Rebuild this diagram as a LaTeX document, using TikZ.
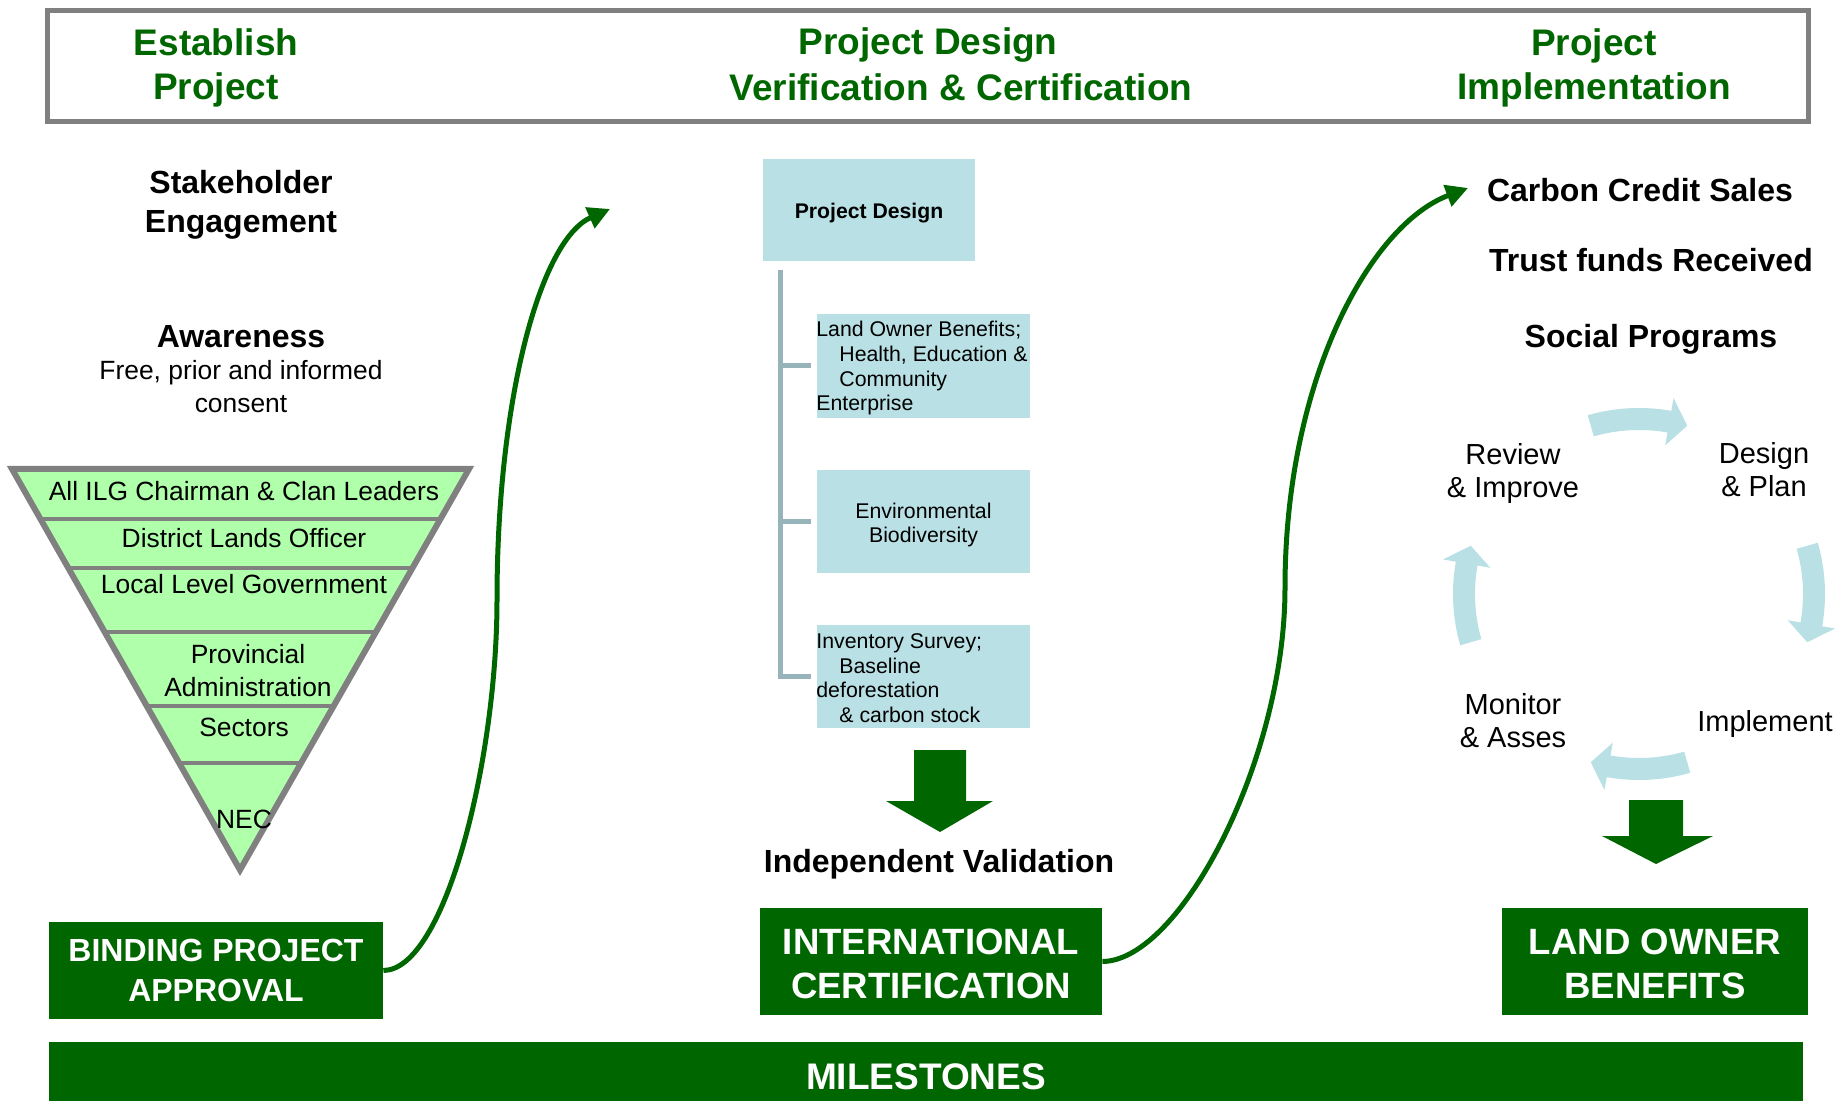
\documentclass[tikz,border=0pt]{standalone}
\usepackage{fontspec}
\setmainfont{Liberation Sans}
\usetikzlibrary{arrows.meta,calc}
\definecolor{dgreen}{RGB}{0,102,0}
\definecolor{lgreen}{RGB}{176,255,170}
\definecolor{lblue}{RGB}{185,224,228}
\definecolor{brkc}{RGB}{150,180,185}
\definecolor{tgray}{RGB}{128,128,128}
\newcommand{\fsz}[2]{\fontsize{#1}{#2}\selectfont}
\begin{document}
\begin{tikzpicture}[x=0.5pt,y=-0.5pt,
  hdr/.style={text=dgreen, font=\fsz{18.5pt}{22pt}\bfseries, align=center, inner sep=0},
  boldtxt/.style={font=\fsz{16pt}{19.4pt}\bfseries, align=center, inner sep=0},
  regtxt/.style={font=\fsz{13.2pt}{16.5pt}, align=center, inner sep=0},
  gbox/.style={fill=dgreen, text=white, align=center, inner sep=0},
  gtxt/.style={text=white, align=center, inner sep=0},
  pbox/.style={fill=lblue, inner sep=0},
  subtxt/.style={font=\fsz{10.65pt}{12.3pt}, align=left, inner sep=0},
  cyc/.style={font=\fsz{14.5pt}{16.5pt}, align=center, inner sep=0},
  curv/.style={draw=dgreen, line width=2.5pt, -{Triangle[length=11pt,width=11pt]}},
  brk/.style={draw=brkc, line width=2.5pt},
]
\useasboundingbox (0,0) rectangle (1838,1101);

% header
\node[draw=tgray, line width=2.5pt, minimum width=880.5pt, minimum height=55.75pt, inner sep=0] (hdrbox) at (927.5,66.25) {};
\node[hdr] (h1) at (216,68) {Establish\\Project};
\node[hdr] (h2a) at (928,45.5) {Project Design};
\node[hdr] (h2b) at (961,87) {Verification \& Certification};
\node[hdr] (h3) at (1594,68) {Project\\Implementation};

% left column
\node[boldtxt] (se) at (241,204.5) {Stakeholder\\Engagement};
\node[boldtxt] (aw) at (241,337) {Awareness};
\node[regtxt] (fp) at (241,387) {Free, prior and informed\\consent};

\coordinate (TL) at (12,469);
\coordinate (TR) at (469,469);
\coordinate (TB) at (240,870);
\fill[lgreen] (TL) -- (TR) -- (TB) -- cycle;
\foreach \f in {0.1247,0.2469,0.4065,0.591,0.733}
  \draw[tgray, line width=2pt] ($(TL)!\f!(TB)$) -- ($(TR)!\f!(TB)$);
\draw[tgray, line width=3pt, line join=miter] (TL) -- (TR) -- (TB) -- cycle;

\node[regtxt] (t1) at (244,491) {All ILG Chairman \& Clan Leaders};
\node[regtxt] (t2) at (244,538) {District Lands Officer};
\node[regtxt] (t3) at (244,584) {Local Level Government};
\node[regtxt] (t4) at (248,670.5) {Provincial\\Administration};
\node[regtxt] (t5) at (244,727) {Sectors};
\node[regtxt] (t6) at (244,819) {NEC};

% middle column
\node[pbox, minimum width=106pt, minimum height=51pt] (pd) at (869,210) {};
\node[inner sep=0, font=\fsz{10.6pt}{12pt}\bfseries] (pdt) at (869,213.5) {Project Design};
\node[pbox, minimum width=106.5pt, minimum height=52pt] (b1) at (923.5,366) {};
\node[subtxt, anchor=west] (b1t) at (816,368.3) {Land Owner Benefits;\\\hspace*{11.5pt}Health, Education \&\\\hspace*{11.5pt}Community\\Enterprise};
\node[pbox, minimum width=106.5pt, minimum height=51.5pt] (b2) at (923.5,521.5) {};
\node[subtxt, align=center] (b2t) at (923.5,525) {Environmental\\Biodiversity};
\node[pbox, minimum width=106.5pt, minimum height=51.5pt] (b3) at (923.5,676.5) {};
\node[subtxt, anchor=west] (b3t) at (816,678.2) {Inventory Survey;\\\hspace*{11.5pt}Baseline\\deforestation\\\hspace*{11.5pt}\& carbon stock};

\coordinate (bt) at ($(pd.south west)+(18,9)$);
\draw[brk] (bt) |- ($(b3.west)+(-6,0)$);
\draw[brk] (bt |- b1.west) -- ($(b1.west)+(-6,0)$);
\draw[brk] (bt |- b2.west) -- ($(b2.west)+(-6,0)$);

\fill[dgreen] (914,750) -- (966,750) -- (966,801) -- (993,801) -- (940,832) -- (886,801) -- (914,801) -- cycle;
\node[boldtxt] (iv) at (939,864.3) {Independent Validation};

% milestone boxes
\node[gbox, font=\fsz{16pt}{20pt}\bfseries, minimum width=167pt, minimum height=48.5pt] (bpa) at (216,970.5) {BINDING PROJECT\\APPROVAL};
\node[gbox, minimum width=171pt, minimum height=53.5pt] (ic) at (931,961.5) {};
\node[gtxt, font=\fsz{18.3pt}{22.3pt}\bfseries] (ict) at (931,963.8) {INTERNATIONAL\\CERTIFICATION};
\node[gbox, minimum width=153pt, minimum height=53.5pt] (lob) at (1655,961.5) {};
\node[gtxt, font=\fsz{18.3pt}{22.3pt}\bfseries] (lobt) at (1655,963.8) {LAND OWNER\\BENEFITS};
\node[gbox, minimum width=877pt, minimum height=29.5pt] (ms) at (926,1071.5) {};
\node[gtxt, font=\fsz{18.5pt}{22pt}\bfseries] (mst) at (926,1076.5) {MILESTONES};

% curved arrows
\coordinate (m1) at (497,600);
\coordinate (e1) at (610,209);
\draw[curv] (bpa.east) .. controls (445,970) and (497,760) .. (m1)
  .. controls (497,400) and (540,240) .. (e1);
\coordinate (m2) at (1285,588);
\coordinate (e2) at (1468,188);
\draw[curv] (ic.east) .. controls (1180,961) and (1285,760) .. (m2)
  .. controls (1285,380) and (1370,225) .. (e2);

% right column
\node[boldtxt] (ccs) at (1640,190) {Carbon Credit Sales};
\node[boldtxt] (tfr) at (1651,260) {Trust funds Received};
\node[boldtxt] (sp) at (1651,339.5) {Social Programs};

\begin{scope}[shift={(1639,594)}, yscale=-1]
  \foreach \a in {90,0,-90,180}
    \fill[lblue] (\a+16:186) arc[start angle=\a+16, end angle=\a-10, radius=186]
      -- (\a-10:199) -- (\a-16:175) -- (\a-10:151) -- (\a-10:164)
      arc[start angle=\a-10, end angle=\a+16, radius=164] -- cycle;
\end{scope}
\node[cyc] (rev) at (1513,473.5) {Review\\\& Improve};
\node[cyc] (des) at (1764,470) {Design\\\& Plan};
\node[cyc] (imp) at (1765,724.5) {Implement};
\node[cyc] (mon) at (1513,721) {Monitor\\\& Asses};

\fill[dgreen] (1629,800) -- (1683,800) -- (1683,836) -- (1713,836) -- (1656,864) -- (1602,836) -- (1629,836) -- cycle;
\end{tikzpicture}
\end{document}
